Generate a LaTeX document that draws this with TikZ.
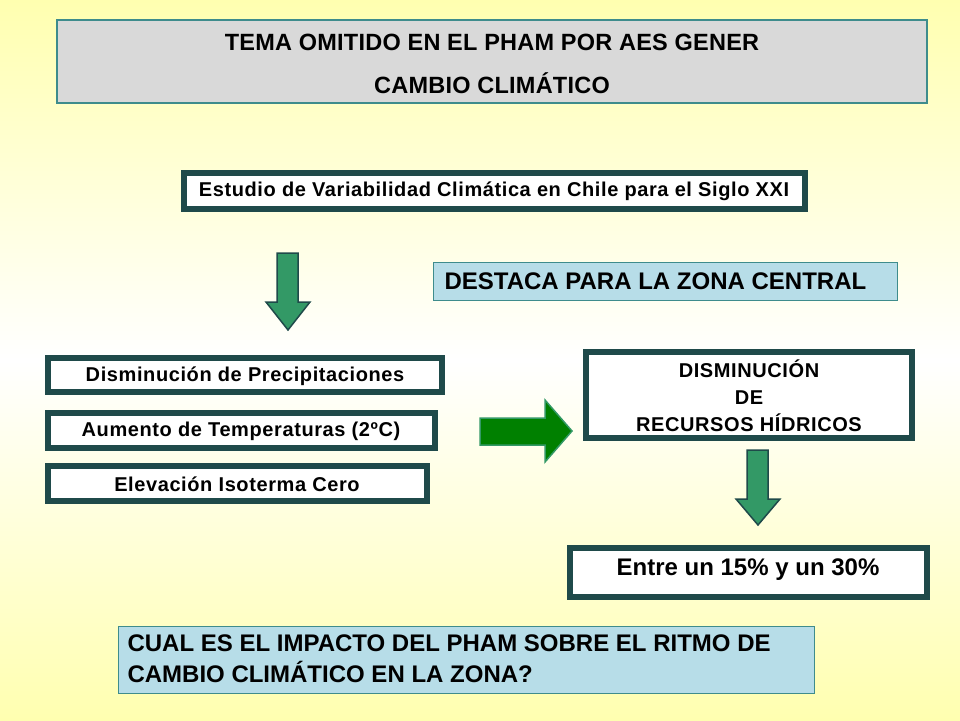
\documentclass[tikz,border=0pt]{standalone}
\usepackage{fontspec}
\setmainfont{Liberation Sans}
\definecolor{dk}{HTML}{1F4A4A}
\definecolor{tl}{HTML}{3E8C8C}
\definecolor{gr1}{HTML}{339966}
\definecolor{lb}{HTML}{B7DDE8}
\definecolor{by}{HTML}{FFFFB0}
\newfontfamily\smallsp[LetterSpace=3]{Liberation Sans}
\newfontfamily\bigsp{Liberation Sans}
\newfontfamily\titsp[LetterSpace=1]{Liberation Sans}
\tikzset{
 thickbox/.style={draw=dk,line width=6pt,fill=white},
 sm/.style={font=\smallsp\bfseries\fontsize{20}{27}\selectfont},
 bg/.style={font=\bigsp\bfseries\fontsize{24}{31}\selectfont},
}
\begin{document}
\begin{tikzpicture}[x=1pt,y=-1pt]
\shade[top color=by,bottom color=by,middle color=white] (0,0) rectangle (960,720);
\useasboundingbox (0,0) rectangle (960,720);
% title
\draw[draw=tl,line width=2pt,fill=black!15] (57,20) rectangle (927,103);
\node[font=\titsp\bfseries\fontsize{23.5}{26}\selectfont] (t1) at (492,42) {TEMA OMITIDO EN EL PHAM POR AES GENER};
\node[font=\titsp\bfseries\fontsize{23.5}{26}\selectfont] (t2) at (492,83) {CAMBIO CLIMÁTICO};
% estudio
\draw[thickbox] (184,173) rectangle (805,209);
\node[sm] (est) at (494,191) {Estudio de Variabilidad Climática en Chile para el Siglo XXI};
% arrow 1
\draw[draw=dk,line width=1.5pt,fill=gr1] (277,253) -- (298,253) -- (298,302) -- (310,302) -- (288,330) -- (266,302) -- (277,302) -- cycle;
% destaca
\draw[draw=tl,line width=1pt,fill=lb] (433,262) rectangle (897,300);
\node[bg,anchor=west] (des) at (441,281) {DESTACA PARA LA ZONA CENTRAL};
% left boxes
\draw[thickbox] (48,358) rectangle (442,392);
\node[sm] (p1) at (245,376) {Disminución de Precipitaciones};
\draw[thickbox] (48,413) rectangle (435,448);
\node[sm] (p2) at (241,431) {Aumento de Temperaturas (2ºC)};
\draw[thickbox] (48,466) rectangle (427,501);
\node[sm] (p3) at (237,484) {Elevación Isoterma Cero};
% right arrow
\draw[draw=gr1,line width=1.5pt,fill=green!50!black] (480,418) -- (545,418) -- (545,400) -- (572,431) -- (545,462) -- (545,445) -- (480,445) -- cycle;
% disminucion
\draw[thickbox] (586,352) rectangle (912,438);
\node[sm,align=center] (dis) at (749,396) {DISMINUCIÓN\\DE\\RECURSOS HÍDRICOS};
% arrow 2
\draw[draw=dk,line width=1.5pt,fill=gr1] (747,450) -- (768,450) -- (768,499) -- (780,499) -- (758,525) -- (736,499) -- (747,499) -- cycle;
% entre
\draw[thickbox] (570,548) rectangle (927,597);
\node[bg] (ent) at (748,570) {Entre un 15\% y un 30\%};
% cual
\draw[draw=tl,line width=1pt,fill=lb] (118,626) rectangle (814,693);
\node[bg,align=left,anchor=west] (cual) at (124,659) {CUAL ES EL IMPACTO DEL PHAM SOBRE EL RITMO DE\\CAMBIO CLIMÁTICO EN LA ZONA?};
\end{tikzpicture}
\end{document}
